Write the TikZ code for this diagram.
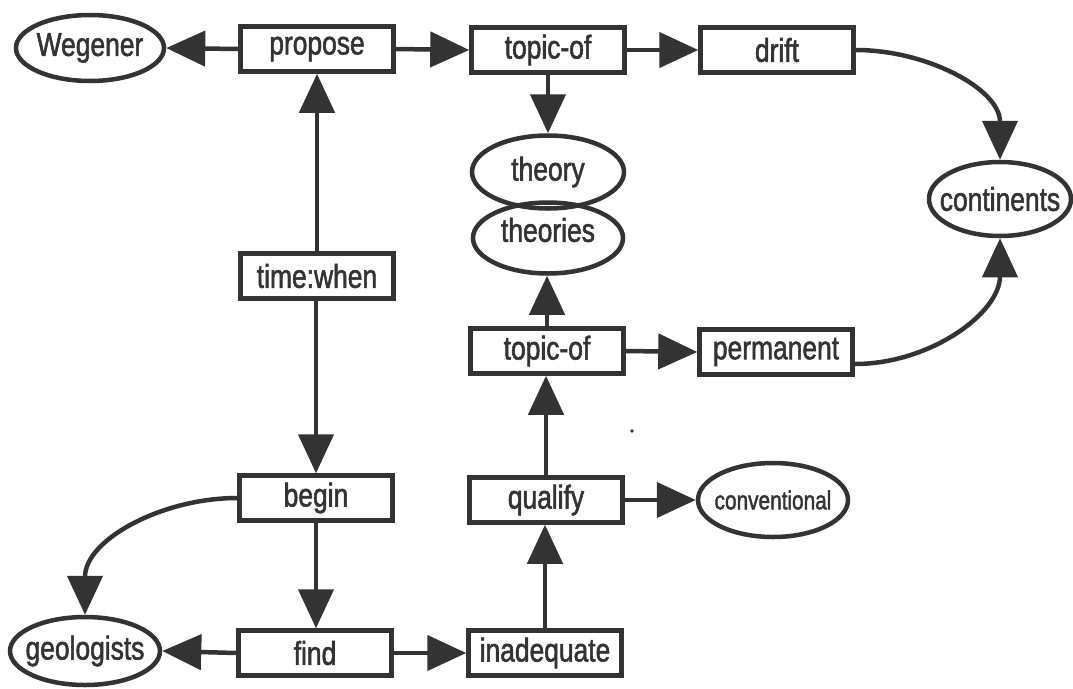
\documentclass[tikz,border=0pt]{standalone}
\usepackage{fontspec}
\setmainfont{Liberation Sans}[FakeStretch=0.8,FakeBold=1.6]
\usetikzlibrary{arrows.meta,shapes.geometric}
\definecolor{ink}{HTML}{333333}
\newcommand{\ct}[1]{\makebox[0pt]{#1}}
\begin{document}
\begin{tikzpicture}[x=1pt,y=-1pt,
  font=\fontsize{33}{37}\selectfont,
  box/.style={draw=ink, line width=4.5pt, minimum width=153pt, minimum height=45pt, inner sep=0pt, text=ink},
  oval/.style={draw=ink, line width=4.5pt, ellipse, inner sep=0pt, text=ink},
  txt/.style={inner sep=0pt, text=ink},
  link/.style={draw=ink, line width=4.5pt, -{Triangle[length=39pt,width=35pt]}},
]
\useasboundingbox (0,0) rectangle (1073,688);
\fill[white] (0,0) rectangle (1073,688);

% nodes
\node[oval, minimum width=148pt, minimum height=66pt] (weg) at (90,48) {\ct{Wegener}};
\node[box] (prop) at (317,49) {propose};
\node[box] (top1) at (548,50) {topic-of};
\node[box] (drift) at (777,50) {drift};
\node[oval, minimum width=152pt, minimum height=73pt] (theory) at (548,172) {\ct{theory}};
\node[oval, minimum width=150pt, minimum height=71pt] (theories) at (548,238) {};
\node[txt] (theoriesL) at ([yshift=8pt]theories.center) {theories};
\node[oval, minimum width=142pt, minimum height=74pt] (cont) at (1000,199) {\ct{continents}};
\node[box] (when) at (317,276) {time:when};
\node[box] (top2) at (547,351) {topic-of};
\node[box] (perm) at (776,352) {permanent};
\node[box] (begin) at (316,498) {begin};
\node[box] (qual) at (546,500) {qualify};
\node[oval, minimum width=150pt, minimum height=74pt, font=\fontsize{26}{30}\selectfont] (conv) at (773,500) {\ct{conventional}};
\node[oval, minimum width=150pt, minimum height=68pt] (geo) at (85,651) {\ct{geologists}};
\node[box] (find) at (315,653) {find};
\node[box] (inad) at (545,653) {inadequate};

% connectors
\draw[link] (prop.west) -- (weg.east);
\draw[link] (prop.east) -- (top1.west);
\draw[link] (top1.east) -- (drift.west);
\draw[link] (top1.south) -- (theory.north);
\draw[link] (drift.east) to[out=0,in=90] (cont.north);
\draw[link] (when.north) -- (when.north |- prop.south);
\draw[link] (when.south) -- (when.south -| begin.north) -- (begin.north);
\draw[link] (top2.north) -- (top2.north |- theories.south);
\draw[link] (top2.east) -- (perm.west);
\draw[link] ([yshift=-12pt]perm.east) to[out=0,in=-90] (cont.south);
\draw[link] (begin.south) -- (begin.south |- find.north);
\draw[link] (begin.west) to[out=180,in=90] (geo.north);
\draw[link] (find.west) -- (geo.east);
\draw[link] (find.east) -- (inad.west);
\draw[link] (inad.north) -- (inad.north |- qual.south);
\draw[link] (qual.north) -- (qual.north |- top2.south);
\draw[link] (qual.east) -- (conv.west);

% scan speck
\fill[ink] (632,431) circle (1.8pt);
\end{tikzpicture}
\end{document}
